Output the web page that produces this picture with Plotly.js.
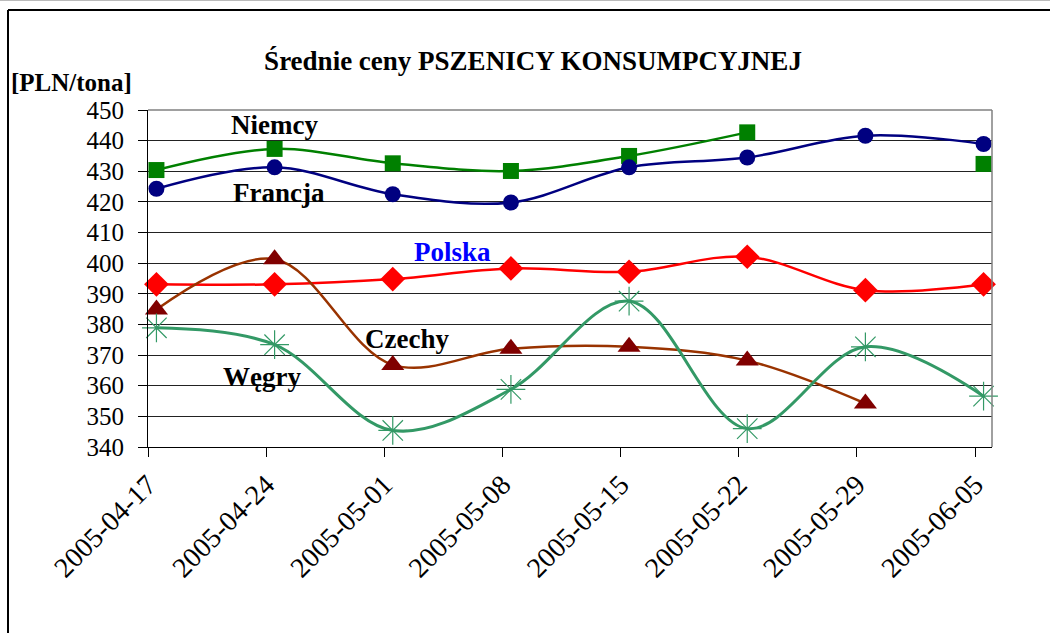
<!DOCTYPE html>
<html>
<head>
<meta charset="utf-8">
<script src="https://cdn.plot.ly/plotly-3.0.1.min.js"></script>
<style>
  html, body { margin: 0; padding: 0; background: #fff; }
  #chart { width: 1050px; height: 633px; }
</style>
</head>
<body>
<div id="chart"></div>
<script>
// ---- data ----
const dates = ['2005-04-17','2005-04-24','2005-05-01','2005-05-08','2005-05-15','2005-05-22','2005-05-29','2005-06-05'];
const niemcy  = [430.4, 437.3, 432.6, 430.1, 435.0, 442.7, null, 432.4];
const francja = [424.3, 431.3, 422.5, 419.8, 431.3, 434.5, 441.6, 438.9];
const polska  = [393.1, 393.1, 394.8, 398.3, 397.2, 402.1, 391.2, 393.1];
const czechy  = [384.9, 401.3, 366.8, 372.1, 372.7, 368.2, 354.2, null];
const wegry   = [378.9, 373.4, 345.4, 358.8, 387.6, 346.0, 372.7, 356.6];
const yTicks  = [340, 350, 360, 370, 380, 390, 400, 410, 420, 430, 440, 450];

const serif = '"Liberation Serif", "Times New Roman", serif';
const HALF_DAY = 12 * 3600 * 1000;
const toMs = d => Date.parse(d + 'T00:00:00Z');
const tickVals = dates.map(d => toMs(d) - HALF_DAY);
const xRange = [toMs(dates[0]) - HALF_DAY, toMs(dates[dates.length - 1]) + HALF_DAY];

function series(name, y, lineColor, symbol, markerColor, size, lineW, mLine) {
  return {
    type: 'scatter', mode: 'lines+markers', name: name,
    x: dates, y: y,
    line: { color: lineColor, width: lineW, shape: 'spline', smoothing: 1 },
    marker: { symbol: symbol, color: markerColor, size: size, line: mLine || { width: 0 } },
    connectgaps: false, showlegend: false, cliponaxis: false
  };
}

const traces = [
  series('Polska', polska, '#FF0000', 'diamond', '#FF0000', 19, 2.5),
  series('Niemcy', niemcy, '#008000', 'square', '#008000', 16, 2.5),
  series('Francja', francja, '#000080', 'circle', '#000080', 16, 2.5),
  series('Czechy', czechy, '#993300', 'triangle-up', '#800000', 20, 2.5),
  series('Węgry', wegry, '#339966', 'asterisk-open', '#339966', 24, 3, { color: '#339966', width: 1.2 })
];

// plot-area pixel geometry (for outer-border shapes)
const L = 148, R = 58, T = 110, B = 186, W = 1050, H = 633;
const pw = W - L - R, ph = H - T - B;
const px = x => (x - L) / pw;
const py = y => (H - B - y) / ph;

const lab = (text, x, y, color) => ({
  text: text, xref: 'paper', yref: 'paper', x: px(x), y: py(y),
  xanchor: 'center', yanchor: 'middle', showarrow: false,
  font: { family: serif, size: 27, color: color || '#000' }
});

const layout = {
  width: W, height: H,
  margin: { l: L, r: R, t: T, b: B, pad: 0 },
  paper_bgcolor: '#fff', plot_bgcolor: '#fff',
  font: { family: serif, color: '#000' },
  title: {
    text: '<b>Średnie ceny PSZENICY KONSUMPCYJNEJ</b>',
    font: { family: serif, size: 27, color: '#000' },
    x: 533 / W, xanchor: 'center', y: 1 - 61 / H, yanchor: 'middle'
  },
  xaxis: {
    type: 'date', range: xRange,
    tickmode: 'array', tickvals: tickVals, ticktext: dates,
    tickangle: -45,
    tickfont: { family: serif, size: 28, color: '#000' },
    ticks: 'outside', ticklen: 9, tickcolor: '#000', tickwidth: 1,
    showline: true, linecolor: '#000', linewidth: 1,
    showgrid: false, zeroline: false, fixedrange: true
  },
  yaxis: {
    range: [340, 450],
    tickmode: 'array', tickvals: yTicks,
    tickfont: { family: serif, size: 25, color: '#000' },
    ticks: 'outside', ticklen: 9, tickcolor: '#000', tickwidth: 1,
    ticklabelstandoff: 9,
    showline: true, linecolor: '#000', linewidth: 1,
    showgrid: true, gridcolor: '#222', gridwidth: 1,
    zeroline: false, fixedrange: true
  },
  annotations: [
    { text: '<b>[PLN/tona]</b>', xref: 'paper', yref: 'paper', x: px(9), y: py(82),
      xanchor: 'left', yanchor: 'middle', showarrow: false,
      font: { family: serif, size: 25, color: '#000' } },
    lab('<b>Niemcy</b>', 274, 125),
    lab('<b>Francja</b>', 279, 193),
    lab('<b>Polska</b>', 452, 252, '#0000FF'),
    lab('<b>Czechy</b>', 407, 339),
    lab('<b>Węgry</b>', 262, 377)
  ],
  shapes: [
    { type: 'line', xref: 'paper', yref: 'paper', x0: 0, x1: 1, y0: 1, y1: 1, line: { color: '#808080', width: 1.5 } },
    { type: 'line', xref: 'paper', yref: 'paper', x0: 1, x1: 1, y0: 0, y1: 1, line: { color: '#808080', width: 1.5 } },
    { type: 'line', xref: 'paper', yref: 'paper', x0: px(8), x1: px(8), y0: py(10), y1: py(H + 5), line: { color: '#000', width: 2 } },
    { type: 'line', xref: 'paper', yref: 'paper', x0: px(8), x1: px(W + 5), y0: py(10), y1: py(10), line: { color: '#000', width: 2 } },
    { type: 'line', xref: 'paper', yref: 'paper', x0: px(0), x1: px(W), y0: py(0.5), y1: py(0.5), line: { color: '#bbb', width: 1 } }
  ]
};

Plotly.newPlot('chart', traces, layout, { displayModeBar: false, staticPlot: true });
</script>
</body>
</html>
